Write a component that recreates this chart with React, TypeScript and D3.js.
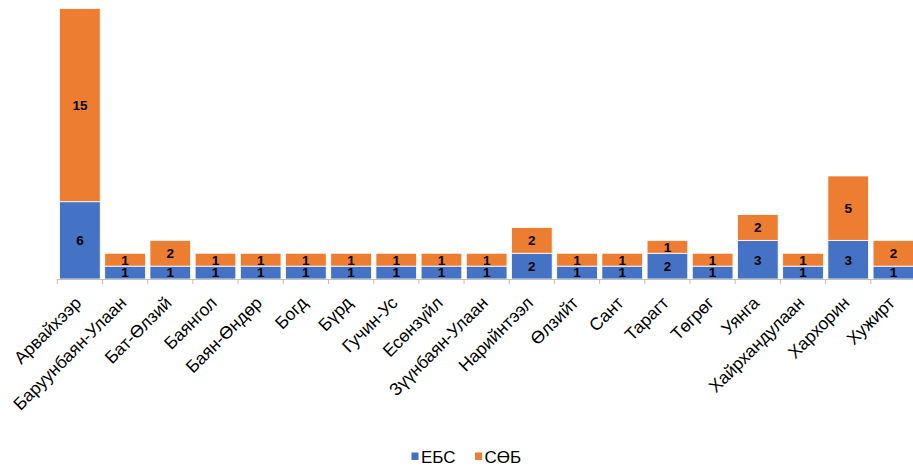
import React from "react";
import * as d3 from "d3";

const categories = ["Арвайхээр","Баруунбаян-Улаан","Бат-Өлзий","Баянгол","Баян-Өндөр","Богд","Бүрд","Гучин-Ус","Есөнзүйл","Зүүнбаян-Улаан","Нарийнтээл","Өлзийт","Сант","Тарагт","Төгрөг","Уянга","Хайрхандулаан","Хархорин","Хужирт"];
const ebs = [6,1,1,1,1,1,1,1,1,1,2,1,1,2,1,3,1,3,1];
const sob = [15,1,2,1,1,1,1,1,1,1,2,1,1,1,1,2,1,5,2];
const seriesNames = ["ЕБС","СӨБ"];
const colors = ["#4472C4","#ED7D31"];

export default function App() {
  const W = 913, H = 466;
  const left = 57.3, right = 916, base = 279, top = 8.5;
  const x = d3.scaleBand<string>().domain(categories).range([left, right]).paddingInner(0.1).paddingOuter(0.05);
  const y = d3.scaleLinear().domain([0, 21]).range([base, top]);
  const rows = categories.map((c, i) => ({ cat: c, ЕБС: ebs[i], СӨБ: sob[i] }));
  const stack = d3.stack<any>().keys(seriesNames)(rows);
  const step = x.step();
  const font = "Liberation Sans, Arial, sans-serif";
  return (
    <svg width={W} height={H} style={{ position: "absolute", left: 0, top: 0, fontFamily: font }}>
      <rect width={W} height={H} fill="#fff" />
      {stack.map((s, si) => (
        <g key={si}>
          {s.map((d, i) => {
            const y0 = y(d[0]), y1 = y(d[1]);
            const bx = x(categories[i])!;
            return (
              <g key={i}>
                <rect x={bx} y={y1} width={x.bandwidth()} height={y0 - y1} fill={colors[si]} stroke="#fff" strokeWidth={0.8} />
                <text x={bx + x.bandwidth() / 2} y={(y0 + y1) / 2} dy="0.36em" textAnchor="middle" fontSize={13.5} fontWeight="bold" fill="#000">{d[1] - d[0]}</text>
              </g>
            );
          })}
        </g>
      ))}
      <line x1={left} x2={W} y1={base + 0.5} y2={base + 0.5} stroke="#bfbfbf" strokeWidth={1} />
      {d3.range(categories.length + 1).map(i => {
        const tx = left + i * step;
        return <line key={i} x1={tx} x2={tx} y1={base} y2={base + 5} stroke="#bfbfbf" strokeWidth={1} />;
      })}
      {categories.map((c, i) => {
        const cx = x(c)! + x.bandwidth() / 2;
        return (
          <text key={c} transform={`translate(${cx + 2.5},${304}) rotate(-45)`} textAnchor="end" fontSize={17.5} fill="#000">{c}</text>
        );
      })}
      <g transform="translate(411.5,452.5)">
        <rect x={0} y={0} width={7} height={7.5} fill={colors[0]} />
        <text x={9.5} y={10.5} fontSize={17} fill="#000">{seriesNames[0]}</text>
        <rect x={63.5} y={0} width={7} height={7.5} fill={colors[1]} />
        <text x={73} y={10.5} fontSize={17} fill="#000">{seriesNames[1]}</text>
      </g>
    </svg>
  );
}
